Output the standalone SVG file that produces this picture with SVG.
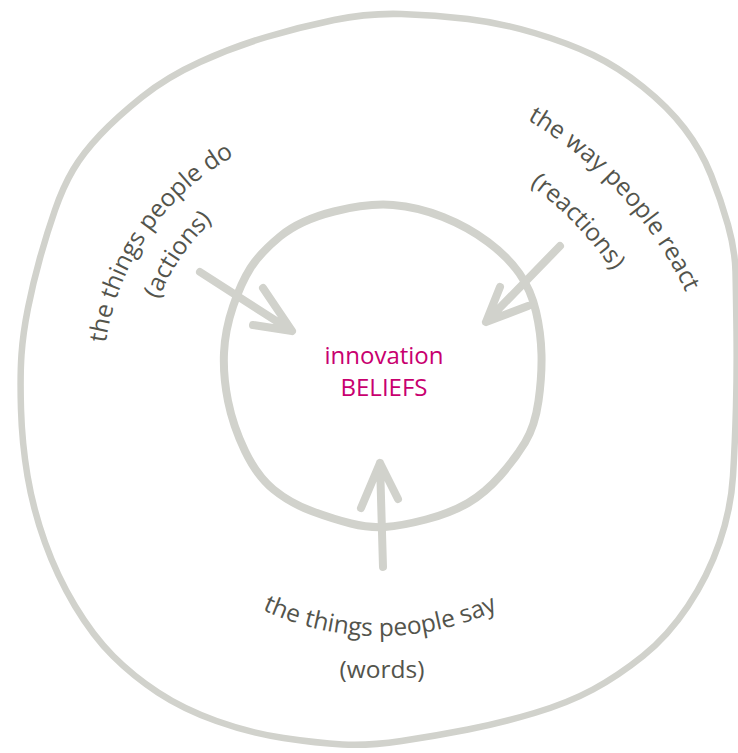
<svg xmlns="http://www.w3.org/2000/svg" xmlns:xlink="http://www.w3.org/1999/xlink" width="738" height="753" viewBox="0 0 738 753">
  <style>
    .ring { fill: none; stroke: #d1d2cc; stroke-linecap: round; stroke-linejoin: round; }
    .arrow { fill: none; stroke: #d1d2cc; stroke-width: 8; stroke-linecap: round; stroke-linejoin: round; }
    .label { font-family: "Open Sans", "Noto Sans", "DejaVu Sans", sans-serif; font-size: 24.5px; fill: #53544c; }
    .core { font-family: "Open Sans", "Noto Sans", "DejaVu Sans", sans-serif; font-size: 24px; fill: #c8006f; text-anchor: middle; }
  </style>
  <defs>
    <!-- baselines for the curved captions -->
    <path id="arc-do" d="M112.4,448.7 A257,257 0 0 1 335.4,124.2"/>
    <path id="arc-actions" d="M150.9,438 A217,217 0 0 1 339.2,164"/>
    <path id="arc-react" d="M306.9,65.4 A400,400 0 0 1 721.7,516.5"/>
    <path id="arc-reactions" d="M301.4,118.8 A347,347 0 0 1 670,501.9"/>
    <path id="arc-say" d="M167.8,537.1 A277,277 0 0 0 592.2,537.1"/>
  </defs>

  <rect width="738" height="753" fill="#ffffff"/>

  <!-- outer loop -->
  <g id="outer-ring">
    <path class="ring" stroke-width="6.5" d="M334,20 Q368,13 401.5,14 Q435,15 468,19 Q501,23 534.5,33 Q568,43 593,55 Q618,67 643,87 Q668,107 684.5,128.5 Q701,150 711,175 Q721,200 728,225 Q735,250 735.5,271.5 Q736,293 736.5,331.5 Q737,370 736,406.5 Q735,443 733,476 Q731,509 719.5,542.5 Q708,576 688,606 Q668,636 643,656 Q618,676 593,689.5 Q568,703 534.5,713 Q501,723 468,729.5 Q435,736 401.5,741 Q368,746 342.5,744.5 Q317,743 283.5,738 Q250,733 216.5,721 Q183,709 158,692.5 Q133,676 113,656 Q93,636 75,606 Q57,576 45,542.5 Q33,509 27.5,476 Q22,443 21,409.5 Q20,376 21.5,354.5 Q23,333 28,308 Q33,283 40,258 Q47,233 55,210 Q63,187 73,170 Q83,153 100,135 Q117,117 142,97 Q167,77 200,62 Q233,47 266.5,37 Q300,27 334,20 Z"/>
  </g>

  <!-- inner circle with the core label -->
  <g id="beliefs">
    <path class="ring" stroke-width="8" d="M334,211.5 Q368,203 393,205 Q418,207 443,217 Q468,227 488,242 Q508,257 519.5,273.5 Q531,290 536,311.5 Q541,333 541.5,354.5 Q542,376 538.5,401 Q535,426 525,442.5 Q515,459 500,476 Q485,493 468,503 Q451,513 426,519.5 Q401,526 385,527 Q369,528 351,523.5 Q333,519 311.5,511 Q290,503 273.5,489.5 Q257,476 245,451 Q233,426 228,401 Q223,376 224,353 Q225,330 233,306.5 Q241,283 250.5,268 Q260,253 280,236.5 Q300,220 334,211.5 Z"/>
    <text class="core" x="384" y="364">innovation</text>
    <text class="core" x="384" y="396">BELIEFS</text>
  </g>

  <!-- captions -->
  <g id="label-actions">
    <text class="label" text-anchor="middle"><textPath xlink:href="#arc-do" href="#arc-do" startOffset="50%">the things people do</textPath></text>
    <text class="label" text-anchor="middle"><textPath xlink:href="#arc-actions" href="#arc-actions" startOffset="50%">(actions)</textPath></text>
  </g>
  <g id="label-reactions">
    <text class="label" text-anchor="middle"><textPath xlink:href="#arc-react" href="#arc-react" startOffset="50%">the way people react</textPath></text>
    <text class="label" text-anchor="middle"><textPath xlink:href="#arc-reactions" href="#arc-reactions" startOffset="50%">(reactions)</textPath></text>
  </g>
  <g id="label-words">
    <text class="label" text-anchor="middle"><textPath xlink:href="#arc-say" href="#arc-say" startOffset="50%">the things people say</textPath></text>
    <text class="label" text-anchor="middle" x="382" y="678">(words)</text>
  </g>

  <!-- arrows into the core -->
  <g id="connectors">
    <path class="arrow" d="M200,272 L292,331 M263,288 L292,331 L253,325"/>
    <path class="arrow" d="M560,246 L486,322 M500,287 L486,322 L528,306"/>
    <path class="arrow" d="M383,567 L380,463 M361,508 L380,463 L398,499"/>
  </g>
</svg>
